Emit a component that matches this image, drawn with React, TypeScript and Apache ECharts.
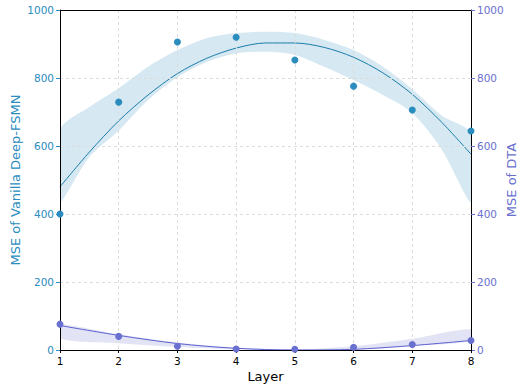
import React, { useEffect, useRef } from "react";
import * as echarts from "echarts";

const layers = [1, 2, 3, 4, 5, 6, 7, 8];
const vanillaMse = [400, 729, 906, 920, 853, 776, 706, 644];
const dtaMse = [76, 40, 11, 3, 2, 8, 16, 28];

const fitX = [1, 1.5, 2, 2.5, 3, 3.5, 4, 4.5, 5, 5.5, 6, 6.5, 7, 7.5, 8];
const vanillaFit = [480, 582, 674, 750, 813, 858, 888, 903, 903, 890, 861, 815, 752, 670, 576];
const dtaFit = [72, 43, 19, 5, 0, 2, 13, 28];

const bandX = [1, 1.5, 2, 2.5, 3, 3.5, 4, 4.5, 5, 5.5, 6, 6.5, 7, 7.5, 8];
const vanillaUpper = [647, 715, 770, 833, 882, 917, 932, 936, 932, 912, 882, 833, 767, 690, 636];
const vanillaLower = [436, 568, 645, 735, 802, 847, 872, 877, 868, 833, 794, 750, 697, 590, 435];

const dtaUpper = [75, 46, 22, 7, 2, 11, 33, 61];
const dtaLower = [34, 20, 9, 2, 0, 1, 12, 27];

const xTicks = ["1", "2", "3", "4", "5", "6", "7", "8"];

const C_V = "#2b8cbe";
const C_VL = "#1a7dab";
const C_VB = "#d6e8f1";
const C_D = "#6a70cf";
const C_DL = "#5c60cf";
const C_DB = "#e2e4f5";

export default function App() {
  const ref = useRef<HTMLDivElement>(null);
  useEffect(() => {
    const chart = echarts.init(ref.current!, null, { renderer: "svg" });
    const font = "DejaVu Sans";
    const pairs = (xs: number[], ys: number[]) => xs.map((x, i) => [x, ys[i]]);

    const bandSeries = (xs: number[], lo: number[], hi: number[], axis: number, color: string) => ({
      type: "custom",
      coordinateSystem: "cartesian2d",
      yAxisIndex: axis,
      encode: { x: 0, y: [1, 2] },
      silent: true,
      z: 1,
      data: xs.map((x, i) => [x, lo[i], hi[i]]),
      renderItem: (params: any, api: any) => {
        if (params.dataIndex !== 0) return null;
        const top = xs.map((x, i) => api.coord([x, hi[i]]));
        const bottom = xs.map((x, i) => api.coord([x, lo[i]])).reverse();
        const pts = top.concat(bottom);
        let minX = Infinity, minY = Infinity, maxX = -Infinity, maxY = -Infinity;
        pts.forEach((p: number[]) => {
          minX = Math.min(minX, p[0]);
          maxX = Math.max(maxX, p[0]);
          minY = Math.min(minY, p[1]);
          maxY = Math.max(maxY, p[1]);
        });
        return {
          type: "polygon",
          shape: {
            points: pts,
            smooth: 0.3,
            smoothConstraint: [
              [minX, minY],
              [maxX, maxY],
            ],
          },
          style: { fill: color, stroke: "none" },
        };
      },
    });

    const split = { show: true, showMinLine: false, showMaxLine: false, lineStyle: { color: "#dcdcdc", type: [3, 3], width: 1 } };

    const option: any = {
      animation: false,
      textStyle: { fontFamily: font },
      grid: {
        left: 60,
        right: 48,
        top: 10,
        bottom: 35,
        containLabel: false,
        outerBoundsMode: "none",
        show: false,
      },
      xAxis: [
        {
          type: "value",
          min: 1,
          max: 8,
          interval: 1,
          position: "bottom",
          name: "Layer",
          nameLocation: "middle",
          nameGap: 20,
          nameMoveOverlap: false,
          nameTextStyle: { color: "#000", fontSize: 13, fontFamily: font },
          axisLine: { show: true, onZero: false, lineStyle: { color: "#000", width: 1 } },
          axisTick: { show: true, length: 3, lineStyle: { color: "#000" } },
          axisLabel: {
            color: "#000",
            fontSize: 10.5,
            fontFamily: font,
            margin: 5,
            formatter: (v: number) => xTicks[v - 1] ?? "",
          },
          splitLine: split,
          z: 5,
        },
        {
          type: "value",
          min: 1,
          max: 8,
          interval: 1,
          position: "top",
          axisLine: { show: true, onZero: false, lineStyle: { color: "#000", width: 1 } },
          axisTick: { show: false },
          axisLabel: { show: false },
          splitLine: { show: false },
          z: 5,
        },
      ],
      yAxis: [
        {
          type: "value",
          min: 0,
          max: 1000,
          interval: 200,
          position: "left",
          name: "MSE of Vanilla Deep-FSMN",
          nameLocation: "middle",
          nameGap: 38,
          nameMoveOverlap: false,
          nameTextStyle: { color: C_V, fontSize: 13, fontFamily: font },
          axisLine: { show: true, onZero: false, lineStyle: { color: "#000", width: 1 } },
          axisTick: { show: true, length: 4, lineStyle: { color: C_V } },
          axisLabel: { color: C_V, fontSize: 10.5, fontFamily: font, margin: 6, formatter: (v: number) => String(v) },
          splitLine: split,
          z: 5,
        },
        {
          type: "value",
          min: 0,
          max: 1000,
          interval: 200,
          position: "right",
          name: "MSE of DTA",
          nameLocation: "middle",
          nameRotate: 90,
          nameGap: 34,
          nameMoveOverlap: false,
          nameTextStyle: { color: C_D, fontSize: 13, fontFamily: font },
          axisLine: { show: true, onZero: false, lineStyle: { color: "#000", width: 1 } },
          axisTick: { show: true, length: 4, lineStyle: { color: C_D } },
          axisLabel: { color: C_D, fontSize: 10.5, fontFamily: font, margin: 6, formatter: (v: number) => String(v) },
          splitLine: { show: false },
          z: 5,
        },
      ],
      series: [
        bandSeries(bandX, vanillaLower, vanillaUpper, 0, C_VB),
        bandSeries(layers, dtaLower, dtaUpper, 1, C_DB),
        {
          type: "line",
          yAxisIndex: 0,
          smooth: 0.3,
          showSymbol: false,
          symbol: "none",
          lineStyle: { color: C_VL, width: 1 },
          data: pairs(fitX, vanillaFit),
          z: 2,
        },
        {
          type: "line",
          yAxisIndex: 1,
          smooth: 0.3,
          showSymbol: false,
          symbol: "none",
          lineStyle: { color: C_DL, width: 1 },
          data: pairs(layers, dtaFit),
          z: 2,
        },
        {
          type: "scatter",
          yAxisIndex: 0,
          symbolSize: 7,
          itemStyle: { color: C_V, opacity: 1 },
          data: pairs(layers, vanillaMse),
          z: 6,
        },
        {
          type: "scatter",
          yAxisIndex: 1,
          symbolSize: 7,
          itemStyle: { color: C_D, opacity: 1 },
          data: pairs(layers, dtaMse),
          z: 6,
        },
      ],
    };
    chart.setOption(option);
    return () => chart.dispose();
  }, []);
  return <div ref={ref} style={{ width: 519, height: 385, position: "absolute", left: 0, top: 0 }} />;
}
